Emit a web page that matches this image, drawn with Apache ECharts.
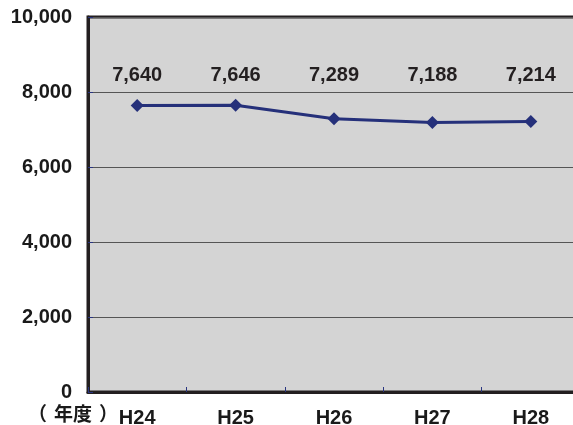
<!DOCTYPE html>
<html>
<head>
<meta charset="utf-8">
<script src="https://cdn.jsdelivr.net/npm/echarts@6/dist/echarts.min.js"></script>
<style>
html,body{margin:0;padding:0;background:#fff;}
#chart{width:573px;height:425px;}
</style>
</head>
<body>
<div id="chart"></div>
<script>
const categories = ['H24', 'H25', 'H26', 'H27', 'H28'];
const values = [7640, 7646, 7289, 7188, 7214];
const yMin = 0, yMax = 10000, yInterval = 2000;
const xUnitLabel = ['（', '年度', '）'];

const chart = echarts.init(document.getElementById('chart'), null, {renderer: 'canvas'});
const font = '"Liberation Sans", Arial, sans-serif';

const option = {
  backgroundColor: '#ffffff',
  animation: false,
  grid: {
    left: 88, top: 17, width: 492, height: 375,
    outerBoundsMode: 'none', containLabel: false,
    show: true, backgroundColor: '#d4d4d4', borderColor: '#231f20', borderWidth: 3
  },
  xAxis: {
    type: 'category', data: categories, boundaryGap: true,
    axisLine: {show: true, lineStyle: {color: '#231f20', width: 3}},
    axisTick: {show: true, inside: true, length: 5, lineStyle: {color: '#2a3580', width: 1}},
    axisLabel: {color: '#1a1a1a', fontFamily: font, fontSize: 20, fontWeight: 'bold', margin: 16},
    splitLine: {show: false}
  },
  yAxis: {
    type: 'value', min: yMin, max: yMax, interval: yInterval,
    axisLine: {show: true, lineStyle: {color: '#231f20', width: 3}},
    axisTick: {show: true, inside: true, length: 5, lineStyle: {color: '#2a3580', width: 1}},
    axisLabel: {color: '#1a1a1a', fontFamily: font, fontSize: 20, fontWeight: 'bold', margin: 16,
      formatter: v => v.toLocaleString('en-US')},
    splitLine: {show: true, lineStyle: {color: '#555555', width: 1}}
  },
  graphic: [{
    type: 'text', left: 28, top: 404,
    style: {
      text: '{p|' + xUnitLabel[0] + '}{t|' + xUnitLabel[1] + '}{p|' + xUnitLabel[2] + '}',
      fontFamily: 'Noto Sans CJK JP', fontSize: 19, fontWeight: 'bold', fill: '#1a1a1a',
      rich: {
        p: {fontFamily: 'Noto Sans CJK JP', fontSize: 19, fontWeight: 'bold', color: '#1a1a1a', padding: [0, 5]},
        t: {fontFamily: 'Noto Sans CJK JP', fontSize: 19, fontWeight: 'bold', color: '#1a1a1a', padding: [0, 2]}
      }
    }
  }],
  series: [{
    type: 'line', data: values,
    symbol: 'diamond', symbolSize: 13,
    lineStyle: {color: '#25307a', width: 3},
    itemStyle: {color: '#25307a'},
    label: {show: true, position: 'inside', color: '#231f20', fontFamily: font, fontSize: 20,
      fontWeight: 'bold',
      formatter: p => p.value.toLocaleString('en-US')}
  }]
};
chart.setOption(option);

// place value labels on a common row above the line
const labelRowY = 75;
const labelCfg = values.map((v, i) => {
  const p = chart.convertToPixel({seriesIndex: 0}, [i, v]);
  return {value: v, label: {offset: [0, labelRowY - p[1]]}};
});
chart.setOption({series: [{data: labelCfg}]});
</script>
</body>
</html>
